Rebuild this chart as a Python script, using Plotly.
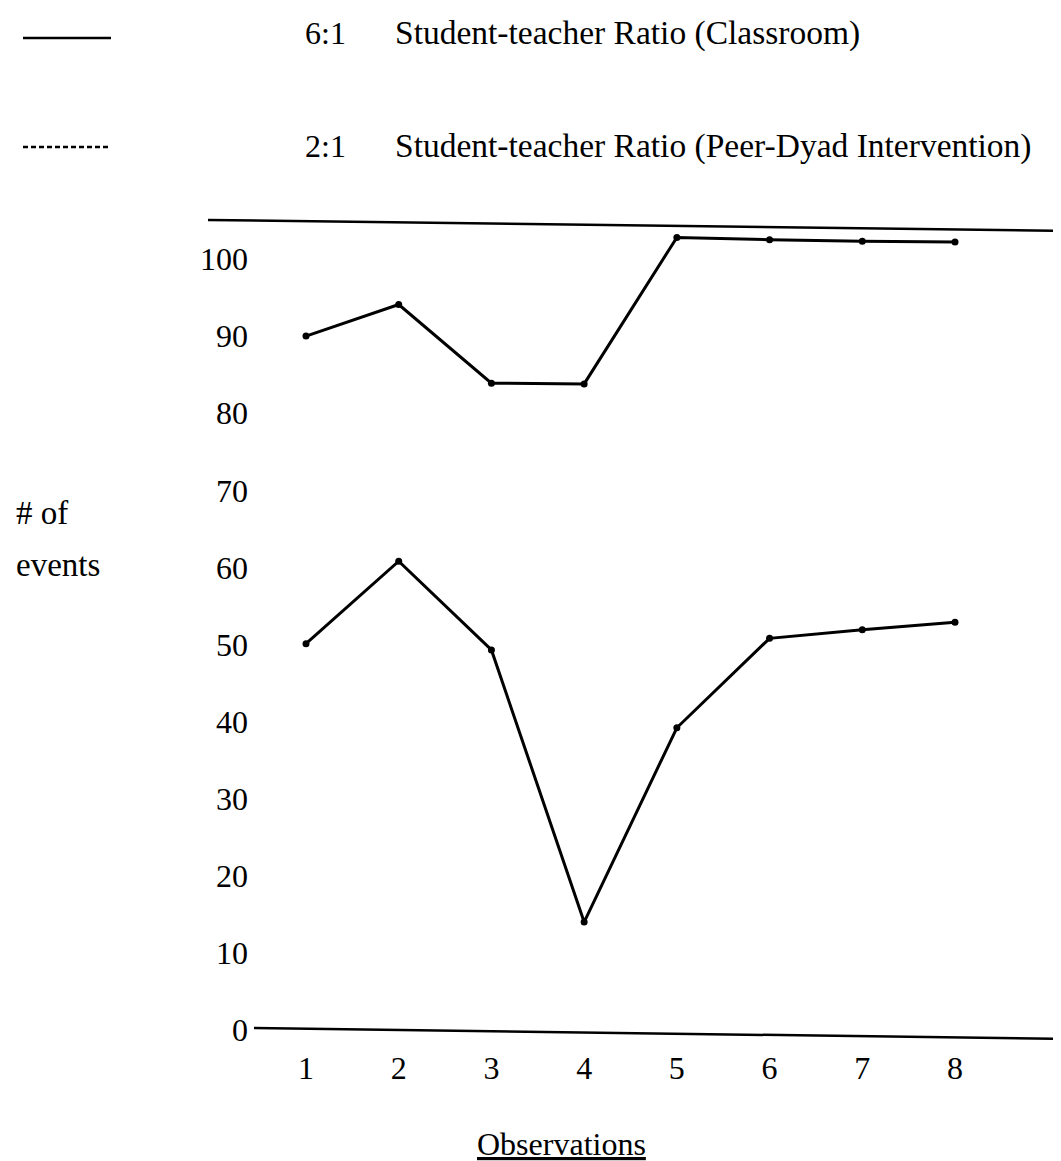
import plotly.graph_objects as go

# ---------------- data ----------------
observations = [1, 2, 3, 4, 5, 6, 7, 8]
peer_dyad_2to1 = [90.0, 94.1, 83.9, 83.8, 102.8, 102.5, 102.3, 102.2]   # upper line
classroom_6to1 = [50.1, 60.8, 49.3, 14.0, 39.2, 50.8, 51.9, 52.9]      # lower line
y_ticks = [0, 10, 20, 30, 40, 50, 60, 70, 80, 90, 100]
x_ticks = [1, 2, 3, 4, 5, 6, 7, 8]
legend_ratios = ["6:1", "2:1"]
legend_labels = ["Student-teacher Ratio (Classroom)",
                 "Student-teacher Ratio (Peer-Dyad Intervention)"]
legend_dashes = ["solid", "5px,3px"]

# ---------------- layout helpers ----------------
W, H = 1061, 1161
FONT = "Liberation Serif, Times New Roman, serif"


def px(x):
    return x / W


def py(y):
    return 1 - y / H


# pixel calibration of the axes
X1_PIX, X8_PIX = 298, 947
kx = (X8_PIX - X1_PIX) / 7.0
x_lo = 1 - X1_PIX / kx
x_hi = x_lo + W / kx
Y0_PIX, Y100_PIX = 1022, 251
ky = (Y0_PIX - Y100_PIX) / 100.0
y_hi = Y0_PIX / ky
y_lo = y_hi - H / ky

fig = go.Figure()
line_style = dict(color="black", width=3)
marker_style = dict(color="black", size=7)
fig.add_trace(go.Scatter(x=observations, y=peer_dyad_2to1, mode="lines+markers",
                         line=line_style, marker=marker_style, showlegend=False,
                         name="2:1 Peer-Dyad Intervention"))
fig.add_trace(go.Scatter(x=observations, y=classroom_6to1, mode="lines+markers",
                         line=line_style, marker=marker_style, showlegend=False,
                         name="6:1 Classroom"))

shapes = [
    # top frame line (slightly slanted as in the scan)
    dict(type="line", xref="paper", yref="paper", x0=px(200), y0=py(212), x1=px(1061), y1=py(223),
         line=dict(color="black", width=2.5)),
    # baseline (0 axis)
    dict(type="line", xref="paper", yref="paper", x0=px(246), y0=py(1020), x1=px(1061), y1=py(1031),
         line=dict(color="black", width=2.5)),
]
annotations = []
legend_line_y = [30, 139]
legend_text_y = [25, 138]
for i in range(2):
    shapes.append(dict(type="line", xref="paper", yref="paper", x0=px(15), x1=px(103),
                       y0=py(legend_line_y[i]), y1=py(legend_line_y[i]),
                       line=dict(color="black", width=2.5, dash=legend_dashes[i])))
    annotations.append(dict(text=legend_ratios[i], xref="paper", yref="paper", x=px(295),
                            y=py(legend_text_y[i]), xanchor="left", yanchor="middle",
                            showarrow=False, font=dict(family=FONT, size=32, color="black")))
    annotations.append(dict(text=legend_labels[i], xref="paper", yref="paper", x=px(385),
                            y=py(legend_text_y[i]), xanchor="left", yanchor="middle",
                            showarrow=False, font=dict(family=FONT, size=33.5, color="black")))

annotations.append(dict(text="# of", xref="paper", yref="paper", x=px(6), y=py(505),
                        xanchor="left", yanchor="middle", showarrow=False,
                        font=dict(family=FONT, size=33, color="black")))
annotations.append(dict(text="events", xref="paper", yref="paper", x=px(6), y=py(557),
                        xanchor="left", yanchor="middle", showarrow=False,
                        font=dict(family=FONT, size=33, color="black")))
annotations.append(dict(text="<u>Observations</u>", xref="paper", yref="paper", x=px(553), y=py(1136),
                        xanchor="center", yanchor="middle", showarrow=False,
                        font=dict(family=FONT, size=32, color="black")))

fig.update_layout(
    template="none",
    width=W, height=H,
    margin=dict(l=0, r=0, t=0, b=0, pad=0),
    paper_bgcolor="white", plot_bgcolor="white",
    shapes=shapes, annotations=annotations,
    xaxis=dict(domain=[0, 1], range=[x_lo, x_hi], anchor="free", position=py(1022),
               tickvals=x_ticks, ticktext=[str(v) for v in x_ticks],
               showgrid=False, zeroline=False, showline=False, ticks="",
               ticklabelstandoff=16, automargin=False,
               tickfont=dict(family=FONT, size=32, color="black")),
    yaxis=dict(domain=[0, 1], range=[y_lo, y_hi], anchor="free", position=px(243),
               tickvals=y_ticks, ticktext=[str(v) for v in y_ticks],
               showgrid=False, zeroline=False, showline=False, ticks="",
               ticklabelstandoff=3, automargin=False,
               tickfont=dict(family=FONT, size=32, color="black")),
)

fig.write_html("out.html")
